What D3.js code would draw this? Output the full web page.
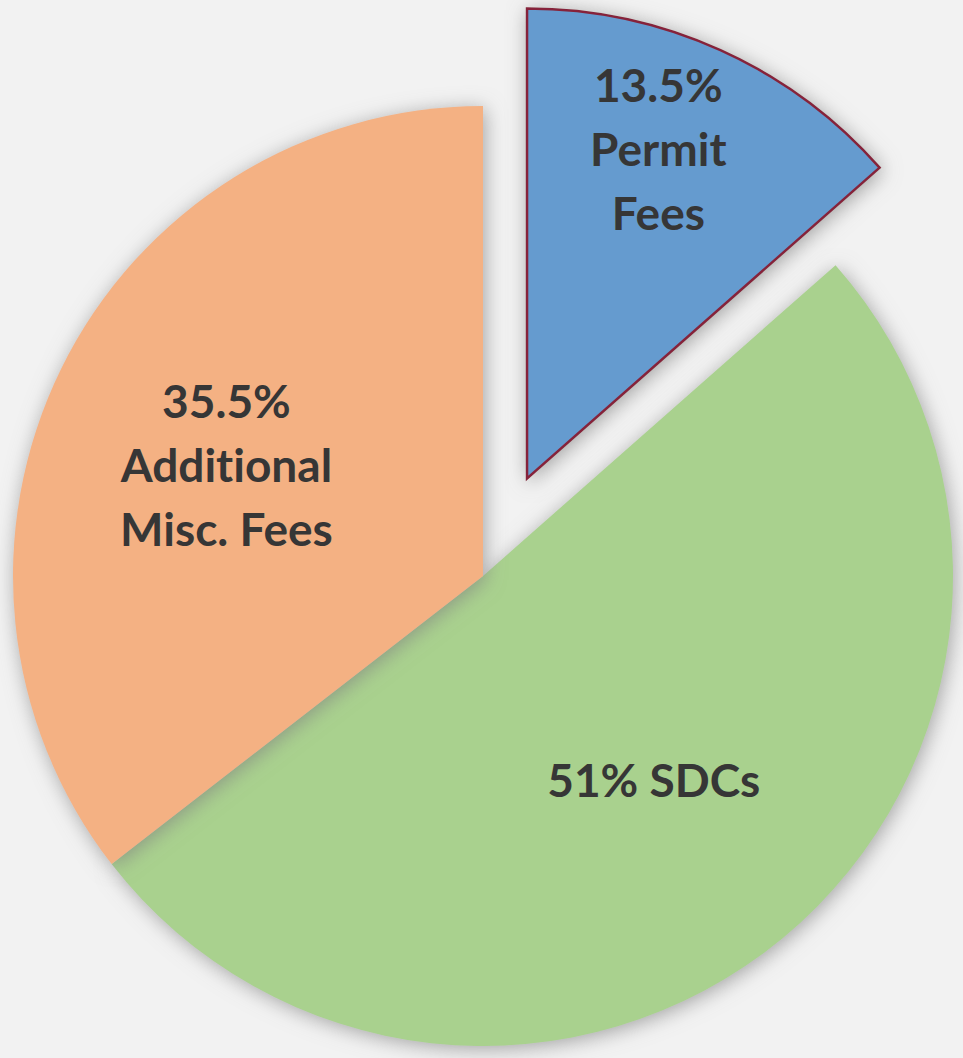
<!DOCTYPE html>
<html>
<head>
<meta charset="utf-8">
<script src="https://cdn.jsdelivr.net/npm/d3@7"></script>
<style>
  html, body { margin: 0; padding: 0; background: #f2f2f2; }
  svg { display: block; }
</style>
</head>
<body>
<div class="svg-wrapper"></div>
<script>
// slices, clockwise from 12 o'clock
var categories = ["Permit Fees", "SDCs", "Additional Misc. Fees"];
var values     = [13.5, 51, 35.5];
var labelLines = [["13.5%", "Permit", "Fees"], ["51% SDCs"], ["35.5%", "Additional", "Misc. Fees"]];
var exploded   = [true, false, false];

var width  = 963,
    height = 1058,
    cx     = 483,
    cy     = 576,
    radius = 470,
    explodeBy = 107;

// label placement (fraction of radius + small pixel nudge, like excel's best fit)
var labelFrac  = [0.72, 0.57, 0.57],
    labelNudge = [[-8, -19], [0, 0], [-16, 9]];

var colors = d3.scaleOrdinal()
  .domain(categories)
  .range(["#659bcf", "#a9d18e", "#f4b183"]);

var svg = d3.select(".svg-wrapper").append("svg")
  .attr("width", width)
  .attr("height", height);

var defs = svg.append("defs");
var shadow = defs.append("filter")
  .attr("id", "shadow")
  .attr("x", "-20%").attr("y", "-20%")
  .attr("width", "140%").attr("height", "140%");
shadow.append("feDropShadow")
  .attr("dx", 2).attr("dy", 3)
  .attr("stdDeviation", 10)
  .attr("flood-color", "#808080")
  .attr("flood-opacity", 0.7);

var pie = d3.pie().sort(null).value(function(d) { return d; });
var arcs = pie(values);

var arc = d3.arc().innerRadius(0).outerRadius(radius);

function offset(d, i) {
  if (!exploded[i]) return [0, 0];
  var a = (d.startAngle + d.endAngle) / 2;
  return [Math.sin(a) * explodeBy, -Math.cos(a) * explodeBy];
}

var g = svg.append("g")
  .attr("transform", "translate(" + cx + "," + cy + ")");

var slices = g.selectAll("g.slice")
  .data(arcs)
  .enter().append("g")
  .attr("class", "slice")
  .attr("transform", function(d, i) {
    var o = offset(d, i);
    return "translate(" + o[0] + "," + o[1] + ")";
  });

slices.append("path")
  .attr("d", arc)
  .attr("fill", function(d, i) { return colors(categories[i]); })
  .attr("stroke", function(d, i) { return exploded[i] ? "#86243a" : "none"; })
  .attr("stroke-width", 2.5)
  .attr("stroke-linejoin", "miter")
  .style("filter", "url(#shadow)");

function labelPos(d, i) {
  var r = radius * labelFrac[i];
  var a = (d.startAngle + d.endAngle) / 2;
  return [Math.sin(a) * r + labelNudge[i][0], -Math.cos(a) * r + labelNudge[i][1]];
}

var lineH = 64;
slices.each(function(d, i) {
  var p = labelPos(d, i);
  var lines = labelLines[i];
  var t = d3.select(this).append("text")
    .attr("text-anchor", "middle")
    .attr("font-family", "Lato, 'Open Sans', sans-serif")
    .attr("font-weight", "bold")
    .attr("font-size", 46)
    .style("font-variant-ligatures", "none")
    .attr("fill", "#363636");
  lines.forEach(function(s, k) {
    t.append("tspan")
      .attr("x", p[0])
      .attr("y", p[1] + (k - (lines.length - 1) / 2) * lineH + 15)
      .text(s);
  });
});
</script>
</body>
</html>
